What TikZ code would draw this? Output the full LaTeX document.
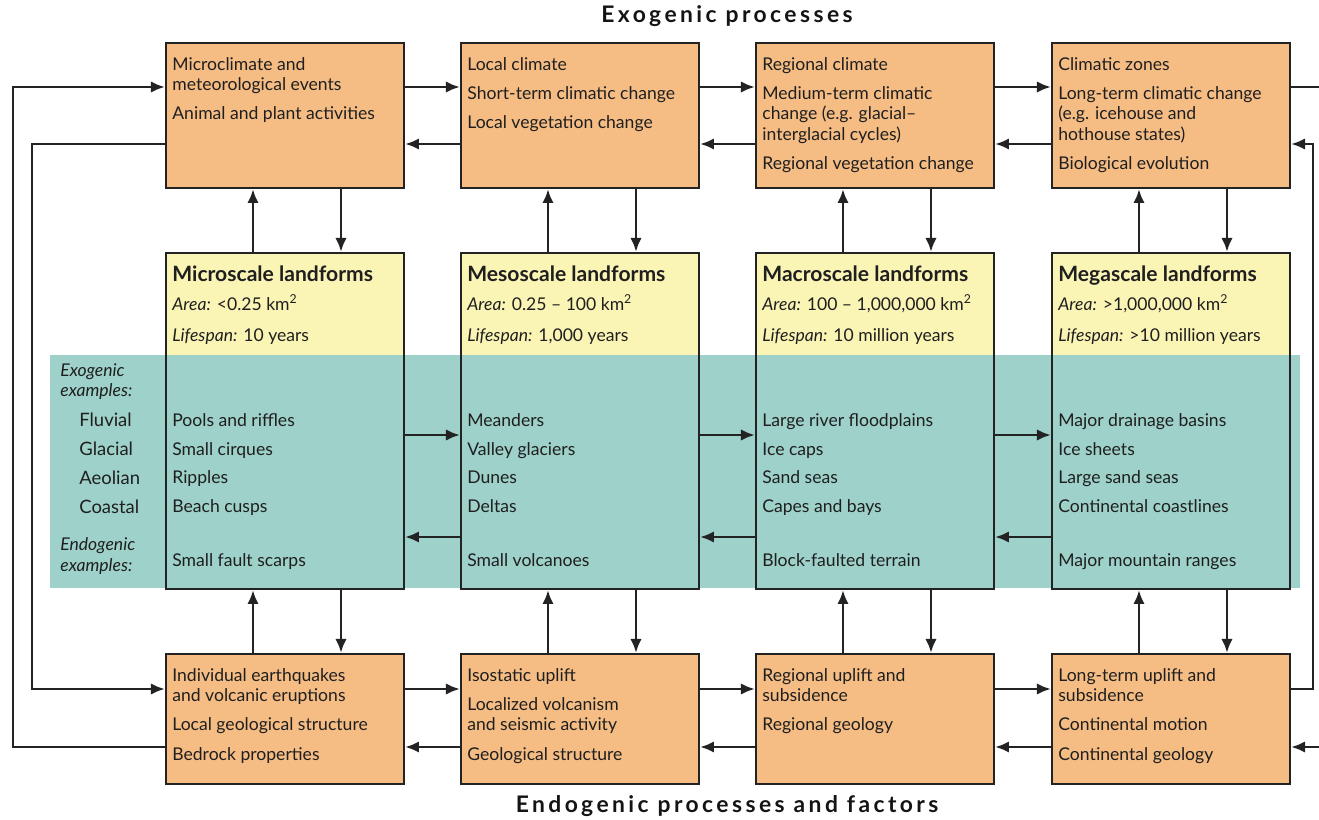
\documentclass[tikz,border=0pt]{standalone}
\usepackage{fontspec}
\setmainfont{Lato}
\usetikzlibrary{arrows.meta,calc}

\definecolor{procorange}{RGB}{245,189,132}
\definecolor{formyellow}{RGB}{250,244,181}
\definecolor{exampleteal}{RGB}{157,209,202}
\definecolor{linegray}{RGB}{35,35,35}

\newcommand\scalewidth{238}
\newcommand\proctextstyle{\fontsize{10}{11.6}\selectfont}
\newcommand\extextstyle{\fontsize{10}{16.4}\selectfont}
\newcommand\formtitlestyle{\fontsize{12}{13}\selectfont\bfseries}
\newcommand\titlestyle{\fontsize{13}{14}\selectfont\bfseries\addfontfeatures{LetterSpace=15}}
\newcommand\itemgap{\\[5pt]}
\newcommand\kmsq{km\textsuperscript{2}}

\begin{document}
\begin{tikzpicture}[x=0.02cm, y=-0.02cm,
    procbox/.style={draw=linegray, line width=1.1pt, fill=procorange, anchor=north west,
      minimum width=\scalewidth*0.02cm, minimum height=145*0.02cm, inner sep=0},
    formbox/.style={draw=linegray, line width=1.1pt, anchor=north west,
      minimum width=\scalewidth*0.02cm, minimum height=336*0.02cm, inner sep=0},
    proctext/.style={anchor=north west, inner sep=0, align=left, font=\proctextstyle, text=black!88},
    extext/.style={anchor=north west, inner sep=0, align=left, font=\extextstyle, text=black!88},
    titletext/.style={inner sep=0, font=\titlestyle, text=black!92},
    flow/.style={draw=linegray, line width=1.6pt, -{Latex[length=8pt,width=6.5pt]}},
  ]
  \useasboundingbox (0,0) rectangle (1319,819);

  \fill[exampleteal] (50,355) rectangle (1300,588);
  \foreach \x in {165,460,755,1051}
    \fill[formyellow] (\x,252) rectangle (\x+\scalewidth,355);

  \foreach \x [count=\i] in {165,460,755,1051} {
    \node[procbox] (clim\i) at (\x,42) {};
    \node[formbox] (form\i) at (\x,252) {};
    \node[procbox, minimum height=130*0.02cm] (geo\i) at (\x,653) {};
  }

  \coordinate (topfwd) at (0,87);
  \coordinate (topback) at (0,144);
  \coordinate (midfwd) at (0,435);
  \coordinate (midback) at (0,537);
  \coordinate (botfwd) at (0,689);
  \coordinate (botback) at (0,747);
  \coordinate (outerleft) at (13,0);
  \coordinate (innerleft) at (32,0);
  \coordinate (outerright) at (1313,0);
  \coordinate (pageedge) at (1319,0);

  \node[titletext] (exotitle) at (727,16) {Exogenic processes};
  \node[titletext] (endotitle) at (727,806) {Endogenic processes and factors};

  \node[proctext] (climtext1) at ($(clim1.north west)+(7,15)$)
    {Microclimate and\\meteorological events\itemgap Animal and plant activities};
  \node[proctext] (climtext2) at ($(clim2.north west)+(7,15)$)
    {Local climate\itemgap Short-term climatic change\itemgap Local vegetation change};
  \node[proctext] (climtext3) at ($(clim3.north west)+(7,15)$)
    {Regional climate\itemgap Medium-term climatic\\change (e.g. glacial--\\interglacial cycles)\itemgap Regional vegetation change};
  \node[proctext] (climtext4) at ($(clim4.north west)+(7,15)$)
    {Climatic zones\itemgap Long-term climatic change\\(e.g. icehouse and\\hothouse states)\itemgap Biological evolution};

  \node[proctext] (geotext1) at ($(geo1.north west)+(7,15)$)
    {Individual earthquakes\\and volcanic eruptions\itemgap Local geological structure\itemgap Bedrock properties};
  \node[proctext] (geotext2) at ($(geo2.north west)+(7,15)$)
    {Isostatic uplift\itemgap Localized volcanism\\and seismic activity\itemgap Geological structure};
  \node[proctext] (geotext3) at ($(geo3.north west)+(7,15)$)
    {Regional uplift and\\subsidence\itemgap Regional geology};
  \node[proctext] (geotext4) at ($(geo4.north west)+(7,15)$)
    {Long-term uplift and\\subsidence\itemgap Continental motion\itemgap Continental geology};

  \node[proctext] (formhead1) at ($(form1.north west)+(7,13)$)
    {{\formtitlestyle Microscale landforms}\\[5pt]\textit{Area:} <0.25 \kmsq\\[6pt]\textit{Lifespan:} 10 years};
  \node[proctext] (formhead2) at ($(form2.north west)+(7,13)$)
    {{\formtitlestyle Mesoscale landforms}\\[5pt]\textit{Area:} 0.25 -- 100 \kmsq\\[6pt]\textit{Lifespan:} 1,000 years};
  \node[proctext] (formhead3) at ($(form3.north west)+(7,13)$)
    {{\formtitlestyle Macroscale landforms}\\[5pt]\textit{Area:} 100 -- 1,000,000 \kmsq\\[6pt]\textit{Lifespan:} 10 million years};
  \node[proctext] (formhead4) at ($(form4.north west)+(7,13)$)
    {{\formtitlestyle Megascale landforms}\\[5pt]\textit{Area:} >1,000,000 \kmsq\\[6pt]\textit{Lifespan:} >10 million years};

  \node[extext] (examples1) at ($(form1.north west)+(7,161)$)
    {Pools and riffles\\Small cirques\\Ripples\\Beach cusps\\[14pt]Small fault scarps};
  \node[extext] (examples2) at ($(form2.north west)+(7,161)$)
    {Meanders\\Valley glaciers\\Dunes\\Deltas\\[14pt]Small volcanoes};
  \node[extext] (examples3) at ($(form3.north west)+(7,161)$)
    {Large river floodplains\\Ice caps\\Sand seas\\Capes and bays\\[14pt]Block-faulted terrain};
  \node[extext] (examples4) at ($(form4.north west)+(7,161)$)
    {Major drainage basins\\Ice sheets\\Large sand seas\\Continental coastlines\\[14pt]Major mountain ranges};

  \node[proctext, font=\proctextstyle\itshape] (exolabel) at (60,363) {Exogenic\\examples:};
  \node[extext, font=\fontsize{10.5}{16.4}\selectfont] (kinds) at (79,413) {Fluvial\\Glacial\\Aeolian\\Coastal};
  \node[proctext, font=\fontsize{10}{12}\selectfont\itshape] (endolabel) at (60,537) {Endogenic\\examples:};

  \foreach \i/\j in {1/2,2/3,3/4} {
    \draw[flow] (clim\i.east |- topfwd) -- (clim\j.west |- topfwd);
    \draw[flow] (clim\j.west |- topback) -- (clim\i.east |- topback);
    \draw[flow] (form\i.east |- midfwd) -- (form\j.west |- midfwd);
    \draw[flow] (form\j.west |- midback) -- (form\i.east |- midback);
    \draw[flow] (geo\i.east |- botfwd) -- (geo\j.west |- botfwd);
    \draw[flow] (geo\j.west |- botback) -- (geo\i.east |- botback);
  }

  \foreach \i in {1,...,4} {
    \draw[flow] ($(form\i.north west)+(88,0)$) -- ($(clim\i.south west)+(88,0)$);
    \draw[flow] ($(clim\i.south west)+(176,0)$) -- ($(form\i.north west)+(176,0)$);
    \draw[flow] ($(geo\i.north west)+(88,0)$) -- ($(form\i.south west)+(88,0)$);
    \draw[flow] ($(form\i.south west)+(176,0)$) -- ($(geo\i.north west)+(176,0)$);
  }

  \draw[flow] (clim1.west |- topback) -- (innerleft |- topback) -- (innerleft |- botfwd) -- (geo1.west |- botfwd);
  \draw[flow] (geo1.west |- botback) -- (outerleft |- botback) -- (outerleft |- topfwd) -- (clim1.west |- topfwd);
  \draw[flow] (geo4.east |- botfwd) -- (outerright |- botfwd) -- (outerright |- topback) -- (clim4.east |- topback);
  \draw[flow, -] (clim4.east |- topfwd) -- (pageedge |- topfwd);
  \draw[flow] (pageedge |- botback) -- (geo4.east |- botback);
\end{tikzpicture}
\end{document}
